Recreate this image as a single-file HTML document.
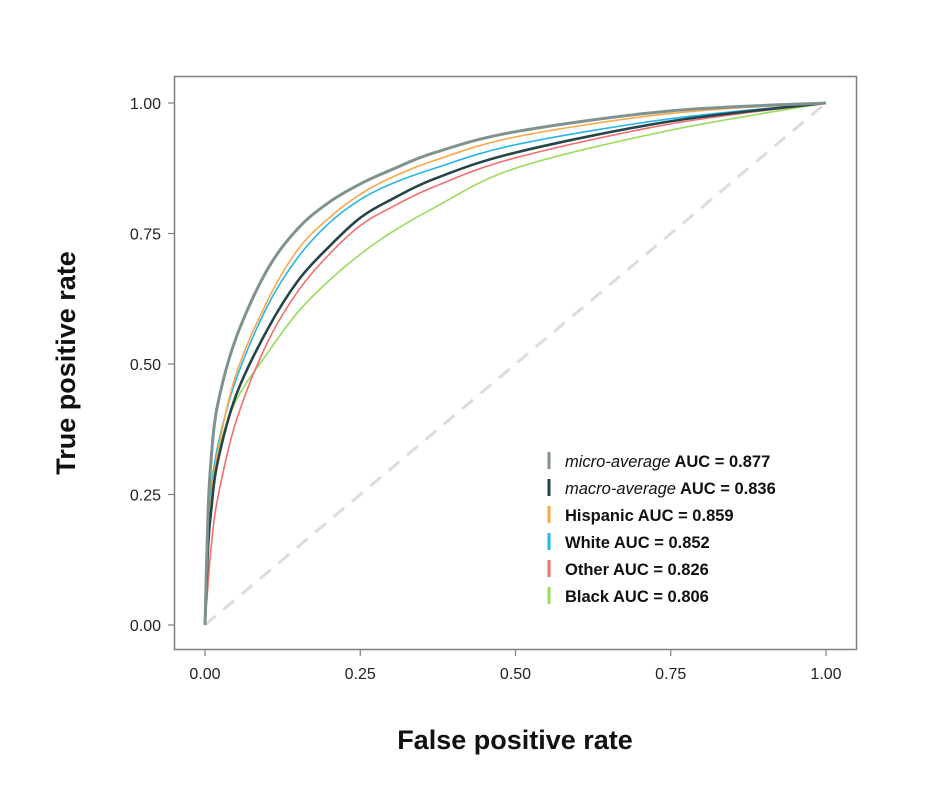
<!DOCTYPE html>
<html><head><meta charset="utf-8"><style>
body{margin:0;background:#fff;}
svg{display:block;font-family:"Liberation Sans",sans-serif;}
</style></head><body>
<svg id="chart" width="940" height="800">
<rect x="174.5" y="76.5" width="682" height="573" fill="#fff" stroke="#7f7f7f" stroke-width="1.5"/>
<g id="axes"></g>
<g id="series"></g>
<g id="legend"></g>
<text x="515" y="749" text-anchor="middle" font-size="27" font-weight="bold" fill="#111">False positive rate</text>
<text transform="translate(75,363) rotate(-90)" text-anchor="middle" font-size="27" font-weight="bold" fill="#111">True positive rate</text>
</svg>
<script>
const fpr = [0,0.005,0.01,0.02,0.05,0.1,0.15,0.2,0.25,0.3,0.37,0.5,0.75,1];
const microTpr    = [0,0.22,0.32,0.42,0.55,0.68,0.76,0.81,0.845,0.872,0.905,0.945,0.985,1];
const macroTpr    = [0,0.15,0.22,0.31,0.44,0.565,0.66,0.725,0.78,0.815,0.855,0.905,0.965,1];
const hispanicTpr = [0,0.15,0.24,0.33,0.48,0.62,0.72,0.78,0.825,0.857,0.89,0.935,0.98,1];
const whiteTpr    = [0,0.17,0.25,0.34,0.47,0.61,0.705,0.77,0.815,0.845,0.875,0.92,0.97,1];
const otherTpr    = [0,0.08,0.15,0.24,0.39,0.54,0.64,0.71,0.765,0.8,0.84,0.895,0.96,1];
const blackTpr    = [0,0.2,0.27,0.33,0.43,0.52,0.6,0.66,0.71,0.752,0.8,0.875,0.948,1];
const ticks = [0,0.25,0.5,0.75,1];
const tickLabels = ["0.00","0.25","0.50","0.75","1.00"];
const seriesNames = ["micro-average","macro-average","Hispanic","White","Other","Black"];
const seriesAuc = ["0.877","0.836","0.859","0.852","0.826","0.806"];
const seriesColors = ["#7f9190","#264548","#f9a94b","#26b5ea","#f46d6d","#9adb5a"];
const seriesWidths = [3,2.6,1.6,1.6,1.6,1.6];

const NS="http://www.w3.org/2000/svg";
const X=v=>205+621*v, Y=v=>625-522*v;
function mk(tag,attrs,parent){const e=document.createElementNS(NS,tag);for(const k in attrs)e.setAttribute(k,attrs[k]);parent.appendChild(e);return e;}
const axes=document.getElementById('axes');
ticks.forEach((t,i)=>{
  const a=mk('line',{x1:X(t),x2:X(t),y1:650,y2:656,stroke:'#7f7f7f','stroke-width':1.2},axes);
  
  
  const tx=mk('text',{x:X(t),y:679,'text-anchor':'middle','font-size':16,fill:'#222'},axes);tx.textContent=tickLabels[i];
  
  
  const b=mk('line',{x1:168,x2:174,y1:Y(t),y2:Y(t),stroke:'#7f7f7f','stroke-width':1.2},axes);
  
  
  const ty=mk('text',{x:161,y:Y(t)+6,'text-anchor':'end','font-size':16,fill:'#222'},axes);ty.textContent=tickLabels[i];
  
  
});
const sg=document.getElementById('series');
const diag=mk('line',{x1:X(0),y1:Y(0),x2:X(1),y2:Y(1),stroke:'#dcdcdc','stroke-width':3,'stroke-dasharray':'14,10'},sg);


function pathFor(ys){
  const p=fpr.map((x,i)=>[X(x),Y(ys[i])]);
  let d='M'+p[0][0]+','+p[0][1];
  for(let i=0;i<p.length-1;i++){
    const p0=p[Math.max(0,i-1)],p1=p[i],p2=p[i+1],p3=p[Math.min(p.length-1,i+2)];
    const c1=[p1[0]+(p2[0]-p0[0])/6,p1[1]+(p2[1]-p0[1])/6];
    const c2=[p2[0]-(p3[0]-p1[0])/6,p2[1]-(p3[1]-p1[1])/6];
    d+=` C${c1[0]},${c1[1]} ${c2[0]},${c2[1]} ${p2[0]},${p2[1]}`;
  }
  return d;
}
const allY=[microTpr,macroTpr,hispanicTpr,whiteTpr,otherTpr,blackTpr];
[5,4,3,2,1,0].forEach(i=>{
  const pe=mk('path',{d:pathFor(allY[i]),fill:'none',stroke:seriesColors[i],'stroke-width':seriesWidths[i]},sg);
  
  
});
const lg=document.getElementById('legend');
seriesNames.forEach((n,i)=>{
  const y=460+27*i;
  const g=mk('g',{},lg);
  
  
  mk('rect',{x:547.5,y:y-8,width:3,height:17,fill:seriesColors[i]},g);
  const t=mk('text',{x:565,y:y+7,'font-size':16.5,fill:'#111'},g);
  const a=mk('tspan',{'font-style':i<2?'italic':'normal','font-weight':i<2?'normal':'bold'},t);a.textContent=n;
  const b=mk('tspan',{'font-weight':'bold'},t);b.textContent=' AUC = '+seriesAuc[i];
});
</script>
</body></html>
